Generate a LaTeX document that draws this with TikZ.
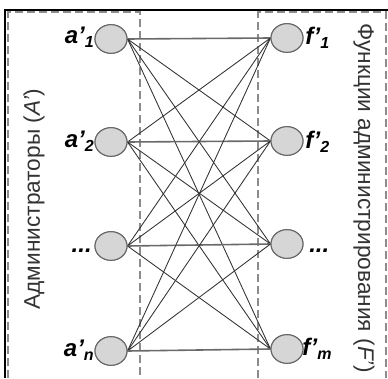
\documentclass[tikz,border=0pt]{standalone}
\usepackage{fontspec}
\setmainfont{Liberation Sans}
\usetikzlibrary{shapes.geometric}
\definecolor{nodefill}{HTML}{D6D6D6}
\definecolor{nodeline}{HTML}{666666}
\definecolor{dashcol}{HTML}{8C8C8C}
\definecolor{edgecol}{HTML}{333333}
\definecolor{hedgecol}{HTML}{6A6A6A}
\definecolor{txtcol}{HTML}{333333}
\tikzset{
  vert/.style={ellipse, draw=nodeline, fill=nodefill, line width=0.8pt,
    minimum width=24pt, minimum height=21.5pt, inner sep=0pt},
  lab/.style={font=\fontsize{18}{18}\selectfont\bfseries\itshape, text=black, inner sep=0pt},
  side/.style={font=\fontsize{17}{17}\selectfont, text=txtcol, inner sep=0pt},
  sep/.style={dashcol, line width=1.5pt, dash pattern=on 6pt off 3pt},
  frame/.style={black, line width=1.5pt},
  edge/.style={edgecol, line width=0.65pt},
  hedge/.style={hedgecol, line width=1.2pt}
}
\newcommand{\sbs}[1]{\raisebox{-3pt}{\fontsize{12}{12}\selectfont #1}}
\begin{document}
\begin{tikzpicture}[x=0.75pt,y=-0.75pt]
\useasboundingbox (0,0) rectangle (388,378);
% frame
\coordinate (fa) at (5,378);
\coordinate (fb) at (5,10);
\coordinate (fc) at (388,10);
\draw[frame] (fa) -- (fb) -- (fc);
% dashed region borders
\coordinate (l1) at (8,378);
\coordinate (l2) at (8,12.5);
\coordinate (l3) at (140,12.5);
\coordinate (l4) at (140,378);
\coordinate (r1) at (258,378);
\coordinate (r2) at (258,12.5);
\coordinate (r3) at (386,12.5);
\coordinate (r4) at (386,378);
\draw[sep] (l1) -- (l2) -- (l3) -- (l4);
\draw[sep] (r1) -- (r2) -- (r3) -- (r4);
% nodes
\node[vert] (a1) at (111,39) {};
\node[vert] (a2) at (111,142) {};
\node[vert] (a3) at (111,246) {};
\node[vert] (a4) at (111,351) {};
\node[vert] (f1) at (287,38) {};
\node[vert] (f2) at (287,141) {};
\node[vert] (f3) at (287,244) {};
\node[vert] (f4) at (287,349) {};
% edges
\foreach \i in {1,2,3,4}{
  \foreach \j in {1,2,3,4}{
    \ifnum\i=\j
      \draw[hedge] (a\i.east) -- (f\j.west);
    \else
      \draw[edge] (a\i.east) -- (f\j.west);
    \fi
  }
}
\foreach \i in {1,2,3,4}{
  \node[vert] at (a\i) {};
  \node[vert] at (f\i) {};
}
% labels
\node[lab, anchor=base east] (la1) at (94,44) {a’\sbs{1}};
\node[lab, anchor=base east] (la2) at (94,147) {a’\sbs{2}};
\node[lab, anchor=base east] (la3) at (92,252) {...};
\node[lab, anchor=base east] (la4) at (94,356) {a’\sbs{n}};
\node[lab, anchor=base west] (lf1) at (305,45) {f’\sbs{1}};
\node[lab, anchor=base west] (lf2) at (305,148) {f’\sbs{2}};
\node[lab, anchor=base west] (lf3) at (309,252) {...};
\node[lab, anchor=base west] (lf4) at (302,355) {f’\sbs{m}};
% side texts
\node[side, rotate=90] (ta) at (34,199) {Администраторы (\textit{A’})};
\node[side, rotate=-90] (tf) at (364,198) {Функции администрирования (\textit{F’})};
\end{tikzpicture}
\end{document}
